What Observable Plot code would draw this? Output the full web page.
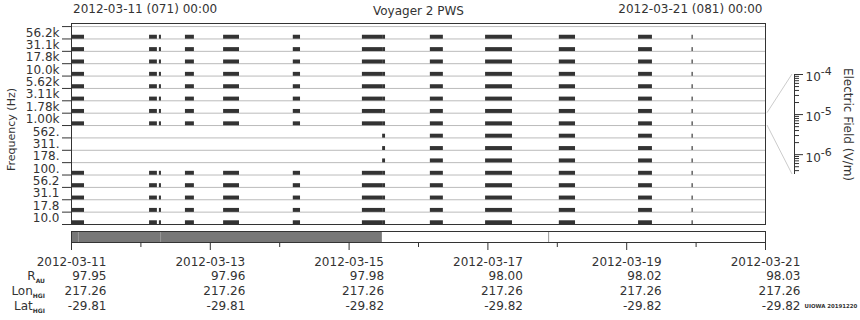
<!DOCTYPE html>
<html><head><meta charset="utf-8">
<script src="https://cdn.jsdelivr.net/npm/d3@7"></script>
<script src="https://cdn.jsdelivr.net/npm/@observablehq/plot@0.6"></script>
<style>
body{margin:0;background:#fff;}
#chart{position:relative;width:860px;height:320px;overflow:hidden;background:#fff;}
#chart svg{position:absolute;left:0;top:0;background:transparent;overflow:visible;}
</style></head><body><div id="chart"></div>
<script>
// ---- data ----
const channelLabels = ["10.0","17.8","31.1","56.2","100.","178.","311.","562.","1.00k","1.78k","3.11k","5.62k","10.0k","17.8k","31.1k","56.2k"]; // bottom -> top
const midBandChannels = ["178.","311.","562."];
const burstStartHr = [0, 27.0, 30.4, 39.4, 52.6, 76.7, 100.6, 107.6, 124.1, 143.2, 168.7, 196.1, 214.6];
const burstEndHr   = [4.5, 29.7, 31.1, 42.5, 58.1, 79.2, 107.6, 108.6, 128.6, 152.5, 174.3, 200.9, 215.0];
const burstHasMidBand = [false,false,false,false,false,false,false,true,true,true,true,true,true];
const coverageEndHr = 107.5;
const fileBoundaryHr = [2.4, 30.8, 165.0];
const majorDates = ["2012-03-11","2012-03-13","2012-03-15","2012-03-17","2012-03-19","2012-03-21"];
const minorDates = ["2012-03-12","2012-03-14","2012-03-16","2012-03-18","2012-03-20"];
const rAU    = [97.95, 97.96, 97.98, 98.00, 98.02, 98.03];
const lonHGI = [217.26, 217.26, 217.26, 217.26, 217.26, 217.26];
const latHGI = [-29.81, -29.81, -29.82, -29.82, -29.82, -29.82];
const fieldDecades = [1e-6, 1e-5, 1e-4];
const fieldDomain = [3.2e-7, 1e-4];
const titleLeft = "2012-03-11 (071) 00:00";
const titleMid = "Voyager 2 PWS";
const titleRight = "2012-03-21 (081) 00:00";

// ---- helpers ----
const W = 860, H = 320, ink = "#333", font = "DejaVu Sans";
const t0 = new Date(Date.UTC(2012,2,11)), t1 = new Date(Date.UTC(2012,2,21));
const hr = h => new Date(t0.getTime() + h*3600e3);
const parseDay = d3.utcParse("%Y-%m-%d");
const baseStyle = {fontFamily: font, fontSize: "12px", color: ink, background: "transparent"};

const cells = [];
burstStartHr.forEach((s, k) => {
  channelLabels.forEach((lab, c) => {
    if (!burstHasMidBand[k] && midBandChannels.includes(lab)) return;
    cells.push({a: hr(s), b: hr(burstEndHr[k]), c});
  });
});

// ---- main spectrogram ----
const main = Plot.plot({
  width: W, height: 232,
  marginTop: 23, marginBottom: 8, marginLeft: 71, marginRight: 95,
  style: baseStyle,
  x: {type: "utc", domain: [t0, t1], axis: null},
  y: {domain: [0, 16.25], axis: null},
  marks: [
    Plot.ruleY(d3.range(1, 17), {stroke: "#bbb"}),
    Plot.rect(cells, {x1: "a", x2: "b", y1: d => d.c - 0.02, y2: d => d.c + 0.3, fill: ink}),
    Plot.frame({stroke: ink}),
    Plot.axisY(d3.range(0, 17), {tickSize: 9, tickFormat: () => "", stroke: ink, label: null}),
    Plot.axisY(channelLabels.map((_, i) => i + 0.5), {tickSize: 0, tickPadding: 12, tickFormat: v => channelLabels[Math.floor(v)], fill: ink, label: null}),
    Plot.text(["Frequency (Hz)"], {frameAnchor: "left", textAnchor: "middle", dx: -60, dy: 5.5, rotate: -90, fontSize: 11, fill: ink}),
    Plot.text([titleLeft], {frameAnchor: "top-left", textAnchor: "start", lineAnchor: "middle", dx: 1.5, dy: -14.5, fill: ink}),
    Plot.text([titleMid], {frameAnchor: "top", lineAnchor: "middle", dy: -12, fill: ink}),
    Plot.text([titleRight], {frameAnchor: "top-right", textAnchor: "end", lineAnchor: "middle", dx: -3, dy: -14.5, fill: ink})
  ]
});

// ---- colour-bar axis ----
const minorField = [];
[-7, -6, -5].forEach(e => { for (let m = 2; m <= 9; m++) { const v = m * Math.pow(10, e); if (v >= fieldDomain[0] && v <= fieldDomain[1]) minorField.push(v); } });
const cb = Plot.plot({
  width: W, height: 232,
  marginTop: 74, marginBottom: 58, marginLeft: 700, marginRight: 66,
  style: baseStyle,
  x: {domain: [0, 1], axis: null},
  y: {type: "log", domain: fieldDomain, axis: null},
  marks: [
    Plot.ruleX([1], {stroke: ink}),
    Plot.axisY(minorField, {anchor: "right", tickSize: 4, tickFormat: () => "", stroke: ink, label: null}),
    Plot.axisY(fieldDecades, {anchor: "right", tickSize: 8, tickPadding: 3, tickFormat: d => "10^" + Math.round(Math.log10(d)), fill: ink, label: null}),
    Plot.text(["Electric Field (V/m)"], {frameAnchor: "right", textAnchor: "middle", dx: 53, rotate: 90, fill: ink})
  ]
});
d3.select(cb).selectAll("text").each(function () {
  const s = this.textContent;
  if (s.startsWith("10^")) {
    const t = d3.select(this);
    t.text(null);
    t.append("tspan").attr("dy", "3").text("10");
    t.append("tspan").attr("dy", "-6").attr("font-size", "11px").text(s.slice(3));
  }
});
// connector lines from the main frame to the colour bar
{
  const mx = main.scale("x"), my = main.scale("y"), cy = cb.scale("y"), cx = cb.scale("x");
  const xs = mx.range[1] + 2, xe = cx.apply(1) - 2;
  const g = d3.select(cb).append("g").attr("stroke", "#ccc").attr("fill", "none");
  g.append("line").attr("x1", xs).attr("y1", my.apply(9)).attr("x2", xe).attr("y2", cy.apply(fieldDomain[1]));
  g.append("line").attr("x1", xs).attr("y1", my.apply(8)).attr("x2", xe).attr("y2", cy.apply(fieldDomain[0]));
}

// ---- coverage bar + date axis ----
const cov = Plot.plot({
  width: W, height: H,
  marginTop: 231, marginBottom: 78, marginLeft: 71, marginRight: 95,
  style: baseStyle,
  x: {type: "utc", domain: [t0, t1], axis: null},
  y: {domain: [0, 1], axis: null},
  marks: [
    Plot.rect([{a: t0, b: hr(coverageEndHr)}], {x1: "a", x2: "b", y1: 0, y2: 1, fill: "#777"}),
    Plot.ruleX(fileBoundaryHr.map(hr), {y1: 0, y2: 1, stroke: "#999"}),
    Plot.frame({stroke: ink}),
    Plot.axisX(majorDates.map(parseDay), {tickSize: 8, tickPadding: 7, tickFormat: d3.utcFormat("%Y-%m-%d"), stroke: ink, fill: ink, label: null}),
    Plot.axisX(minorDates.map(parseDay), {tickSize: 5, tickFormat: () => "", stroke: ink, label: null})
  ]
});

// ---- ephemeris table ----
const tableRows = ["R", "Lon", "Lat"];
const tableCells = majorDates.flatMap((d, i) => [
  {t: parseDay(d), row: "R", v: rAU[i].toFixed(2)},
  {t: parseDay(d), row: "Lon", v: lonHGI[i].toFixed(2)},
  {t: parseDay(d), row: "Lat", v: latHGI[i].toFixed(2)}
]);
const tab = Plot.plot({
  width: W, height: H,
  marginTop: 276, marginBottom: 14, marginLeft: 71, marginRight: 95,
  style: baseStyle,
  x: {type: "utc", domain: [t0, t1], axis: null},
  y: {type: "point", domain: tableRows, padding: 0, axis: null},
  marks: [
    Plot.text(tableCells, {x: "t", y: "row", text: "v", textAnchor: "end", dx: 35, fill: ink}),
    Plot.text(["UIOWA 20191220"], {frameAnchor: "bottom-right", textAnchor: "start", dx: 39, dy: 1, fontSize: 5.4, fontWeight: "bold", fill: ink})
  ]
});
{
  const ty = tab.scale("y");
  const labels = [["R", "AU"], ["Lon", "HGI"], ["Lat", "HGI"]];
  const g = d3.select(tab).append("g").attr("fill", ink).attr("font-family", font).attr("text-anchor", "end");
  labels.forEach(([main, sub], i) => {
    const t = g.append("text").attr("x", 45).attr("y", ty.apply(tableRows[i])).attr("dy", "0.32em").attr("font-size", "12px");
    t.append("tspan").text(main);
    t.append("tspan").attr("dy", "3").attr("font-size", "6px").attr("font-weight", "bold").text(sub);
  });
}

const root = document.getElementById("chart");
[main, cb, cov, tab].forEach(s => root.appendChild(s));
</script>
</body></html>
